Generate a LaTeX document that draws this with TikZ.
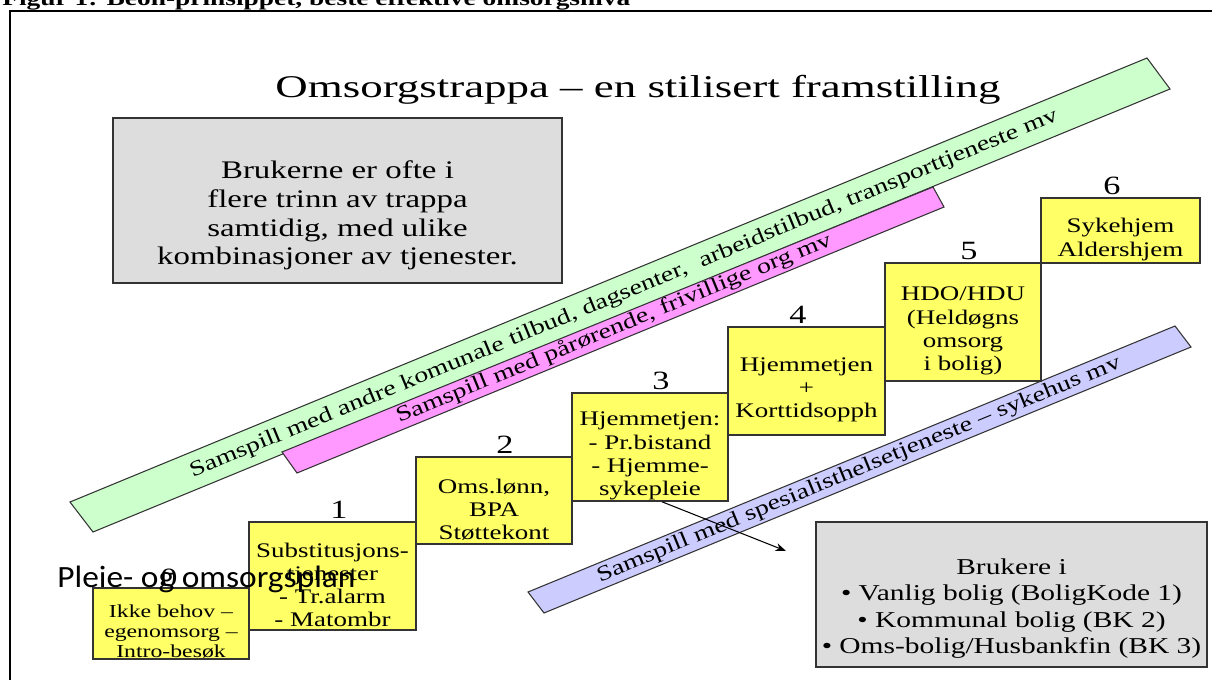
\documentclass[tikz,border=0pt]{standalone}
\usepackage{fontspec}
\setmainfont{Liberation Serif}
\newfontfamily\stfont[FakeStretch=1.3]{Liberation Serif}
\newfontfamily\titlefont[FakeStretch=1.42]{Liberation Serif}
\newfontfamily\calfont[FakeStretch=1.08]{Carlito}
\usetikzlibrary{arrows.meta,fit}
\definecolor{ybox}{HTML}{FFFF66}
\definecolor{gfill}{HTML}{DDDDDD}
\definecolor{gband}{HTML}{CCFFCC}
\definecolor{pband}{HTML}{FF99FF}
\definecolor{vband}{HTML}{CCCCFF}
\definecolor{edge}{HTML}{333333}
\begin{document}
\begin{tikzpicture}[x=0.02cm,y=-0.02cm,
  stepbox/.style={draw=edge,line width=0.9pt,fill=ybox,inner sep=0pt},
  steptext/.style={inner sep=0pt,align=center,font=\stfont\fontsize{11.8}{13.2}\selectfont},
  greybox/.style={draw=edge,line width=0.9pt,fill=gfill,inner sep=0pt},
  boxtext/.style={inner sep=0pt,align=center},
  band/.style={draw=edge,line width=0.6pt},
  bandtext/.style={font=\stfont\fontsize{12.2}{14}\selectfont,inner sep=0pt},
  lbl/.style={anchor=base,font=\stfont\fontsize{15}{17}\selectfont,inner sep=0pt}]
\useasboundingbox (0,0) rectangle (1212,679);
\clip (0,0) rectangle (1212,679);
% frame and heading
\draw[line width=1.1pt] (10,720) -- (10,11) -- (1240,11);
\node[anchor=base west,inner sep=0pt,font=\stfont\bfseries\fontsize{12}{14}\selectfont] (hdr) at (2,6)
  {Figur 1: Beon-prinsippet, beste effektive omsorgsnivå};
\node[anchor=base,inner sep=0pt,font=\titlefont\fontsize{18}{20}\selectfont] (title) at (638,97)
  {Omsorgstrappa – en stilisert framstilling};
% info box
\node[greybox,fit={(113,118) (562,283)}] (info) {};
\node[boxtext,font=\stfont\fontsize{14.4}{16.3}\selectfont] (infotxt) at ([yshift=-0.3cm]info.center)
  {Brukerne er ofte i\\flere trinn av trappa\\samtidig, med ulike\\kombinasjoner av tjenester.};
% bands
\draw[band,fill=gband] (70,502) -- (1147,58) -- (1170,89) -- (93,532) -- cycle;
\node[bandtext,rotate=22.4] (gtxt) at (624,294)
  {Samspill med andre komunale tilbud, dagsenter,~ arbeidstilbud, transporttjeneste mv};
\draw[band,fill=pband] (282,452) -- (933,187) -- (944,207) -- (297,473) -- cycle;
\node[bandtext,rotate=22.3] (ptxt) at (614,329)
  {Samspill med pårørende, frivillige org mv};
\draw[band,fill=vband] (528,592) -- (1175,326) -- (1191,347) -- (544,613) -- cycle;
\node[bandtext,rotate=22.35] (vtxt) at (859,470)
  {Samspill med spesialisthelsetjeneste – sykehus mv};
% steps
\node[stepbox,fit={(93,588) (249,659)}] (b0) {};
\node[stepbox,fit={(249,522) (416,630)}] (b1) {};
\node[stepbox,fit={(416,457) (572,544)}] (b2) {};
\node[stepbox,fit={(572,393) (728,501)}] (b3) {};
\node[stepbox,fit={(728,327) (885,435)}] (b4) {};
\node[stepbox,fit={(885,263) (1041,381)}] (b5) {};
\node[stepbox,fit={(1041,198) (1200,263)}] (b6) {};
\node[steptext,font=\stfont\fontsize{10.4}{11.2}\selectfont] (t0) at ([yshift=-0.16cm]b0.center)
  {Ikke behov –\\egenomsorg –\\Intro-besøk};
\node[steptext] (t1) at ([yshift=-0.18cm]b1.center) {Substitusjons-\\tjenester\\- Tr.alarm\\- Matombr};
\node[steptext] (t2) at ([yshift=-0.18cm]b2.center) {Oms.lønn,\\BPA\\Støttekont};
\node[steptext] (t3) at ([yshift=-0.18cm]b3.center) {Hjemmetjen:\\- Pr.bistand\\- Hjemme-\\sykepleie};
\node[steptext] (t4) at ([yshift=-0.18cm]b4.center) {Hjemmetjen\\+\\Korttidsopph};
\node[steptext] (t5) at ([yshift=-0.18cm]b5.center) {HDO/HDU\\(Heldøgns\\omsorg\\i bolig)};
\node[steptext] (t6) at ([yshift=-0.18cm]b6.center) {Sykehjem\\Aldershjem};
\node[lbl] (l0) at (169,586) {0};
\node[lbl] (l1) at (339,518) {1};
\node[lbl] (l2) at (505,453) {2};
\node[lbl] (l3) at (661,389) {3};
\node[lbl] (l4) at (798,323) {4};
\node[lbl] (l5) at (969,259) {5};
\node[lbl] (l6) at (1112,194) {6};
% users box and arrow
\node[greybox,fit={(816,522) (1207,667)}] (users) {};
\node[boxtext,font=\stfont\fontsize{12.9}{14.9}\selectfont] (userstxt) at ([yshift=-0.28cm]users.center)
  {Brukere i\\• Vanlig bolig (BoligKode 1)\\• Kommunal bolig (BK 2)\\• Oms-bolig/Husbankfin (BK 3)};
\coordinate (arrowend) at (786,551);
\draw[line width=0.6pt,-{Stealth[length=6pt,width=4.5pt]}] ([xshift=0.24cm]b3.south) -- (arrowend);
% overlay text
\node[anchor=base west,inner sep=0pt,font=\calfont\fontsize{17.6}{20}\selectfont] (plan) at (57,587)
  {Pleie- og omsorgsplan};
\end{tikzpicture}
\end{document}
